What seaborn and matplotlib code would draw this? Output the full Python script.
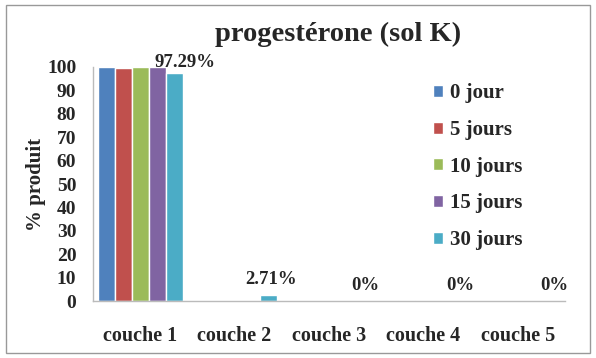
import pandas as pd
import matplotlib.pyplot as plt
import seaborn as sns
from matplotlib.patches import Rectangle

couches = ["couche 1", "couche 2", "couche 3", "couche 4", "couche 5"]
series = ["0 jour", "5 jours", "10 jours", "15 jours", "30 jours"]
v0 = [100, 0, 0, 0, 0]
v5 = [99.6, 0, 0, 0.4, 0]
v10 = [99.8, 0, 0, 0, 0]
v15 = [99.9, 0, 0, 0, 0]
v30 = [97.29, 2.71, 0, 0, 0]
labels30 = ["97.29%", "2.71%", "0%", "0%", "0%"]
colors = ["#4F81BD", "#C0504D", "#9BBB59", "#8064A2", "#4BACC6"]

rows = []
for s, vals in zip(series, [v0, v5, v10, v15, v30]):
    for c, v in zip(couches, vals):
        rows.append({"couche": c, "serie": s, "val": v})
df = pd.DataFrame(rows)

sns.set_style("white")
plt.rcParams["font.family"] = ["Liberation Serif", "DejaVu Serif"]
plt.rcParams["font.weight"] = "bold"

fig = plt.figure(figsize=(5.96, 3.58), dpi=100)
ax = fig.add_axes([0.156, 0.159, 0.792, 0.654])
sns.barplot(data=df, x="couche", y="val", hue="serie", hue_order=series,
            palette=colors, width=0.9, saturation=1, ax=ax, errorbar=None)

ax.set_xlim(-0.5, 4.5)
ax.set_ylim(0, 100)
ax.set_yticks(range(0, 101, 10))
ax.tick_params(axis="y", length=0, pad=12, labelsize=14)
ax.tick_params(axis="x", length=0, pad=18, labelsize=14.5)
for lab in ax.get_xticklabels() + ax.get_yticklabels():
    lab.set_fontweight("bold")
ax.set_xlabel("")
ax.set_ylabel("% produit", fontsize=15, fontweight="bold", labelpad=1)
ax.set_title("progestérone (sol K)", fontsize=20.5, fontweight="bold", pad=19, x=0.52)

for side in ["top", "right"]:
    ax.spines[side].set_visible(False)
for side in ["left", "bottom"]:
    ax.spines[side].set_color("#BBBBBB")
    ax.spines[side].set_linewidth(1)

# value labels for the 30 jours series
cont = ax.containers[4]
for i, (bar, txt) in enumerate(zip(cont, labels30)):
    dx, dy = (8, 2) if i == 0 else (2, 5)
    ax.annotate(txt, (bar.get_x() + bar.get_width() / 2, bar.get_height()),
                xytext=(dx, dy), textcoords="offset points", ha="center",
                va="bottom", fontsize=13.5, fontweight="bold")

leg = ax.legend(loc="upper left", bbox_to_anchor=(0.68, 1.01), frameon=False,
                fontsize=15, labelspacing=0.8, handlelength=0.5,
                handleheight=0.5, handletextpad=0.35)
for t in leg.get_texts():
    t.set_fontweight("bold")

fig.patches.append(Rectangle((0.01, 0.015), 0.98, 0.972, transform=fig.transFigure,
                             fill=False, edgecolor="#999999", linewidth=1))

fig.savefig("out.png", dpi=100)
